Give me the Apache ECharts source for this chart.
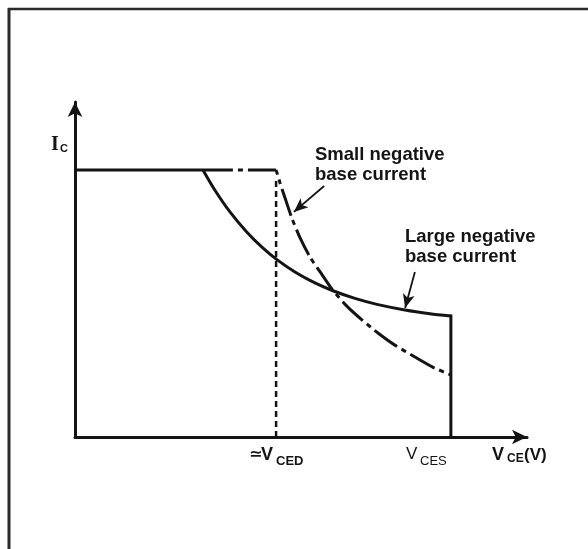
<!DOCTYPE html>
<html><head><meta charset="utf-8">
<script src="https://cdn.jsdelivr.net/npm/echarts@6.0.0/dist/echarts.min.js"></script>
<style>html,body{margin:0;padding:0;background:#fff}#c{width:588px;height:549px}</style>
</head><body><div id="c"></div>
<script>
// Axis extents (relative units)
const xAxisMax = 101.6;
const yAxisMax = 102.1;
// Common current limit (flat top)
const commonLimitX = [0, 35.5];
const commonLimitY = [81.4, 81.4];
// Large negative base current curve
const largeNegX = [28.76, 31.46, 34.83, 38.65, 42.02, 45.39, 49.44, 53.93, 57.98, 62.92, 67.87, 74.16, 79.78, 84.49];
const largeNegY = [81.40, 75.21, 68.60, 62.41, 57.87, 54.05, 50.30, 46.95, 44.57, 42.23, 40.43, 38.72, 37.59, 36.89];
// V_CES vertical limit
const vcesX = [84.49, 84.49];
const vcesY = [36.89, 0];
// Small negative base current curve (dash-dot)
const smallFlatX = [35.5, 45.2];
const smallFlatY = [81.4, 81.4];
const smallNegX = [45.2, 46.1, 47.2, 48.8, 50.6, 52.8, 55.1, 57.9, 61.1, 64.5, 68.1, 71.9, 76.4, 80.4, 84.49];
const smallNegY = [81.4, 77.4, 72.9, 66.5, 60.7, 54.9, 50.3, 44.8, 39.9, 35.7, 31.7, 28.0, 24.4, 21.3, 18.9];
// V_CED dotted marker
const vcedX = [45.2, 45.2];
const vcedY = [0, 78.5];
// Annotation arrows [from, to]
const smallArrow = [[56.0, 76.5], [49.2, 68.6]];
const largeArrow = [[76.4, 50.3], [74.2, 39.3]];

const INK = '#141414';
const zip = (xs, ys) => xs.map((x, i) => [x, ys[i]]);
const T = (x, y, text, font, extra) => Object.assign({
  type: 'text', x, y, silent: true,
  style: Object.assign({ text, font, fill: INK, align: 'left', textAlign: 'left',
    verticalAlign: 'middle', textVerticalAlign: 'middle' }, extra || {})
});

const chart = echarts.init(document.getElementById('c'), null, { renderer: 'canvas' });
const base = { type: 'line', showSymbol: false, symbol: 'none', silent: true, animation: false };
chart.setOption({
  animation: false,
  backgroundColor: '#ffffff',
  grid: { left: 75, top: 102, right: 61, bottom: 112, containLabel: false },
  xAxis: {
    type: 'value', min: 0, max: xAxisMax,
    axisLine: { show: true, onZero: true, symbol: ['none', 'arrow'], symbolSize: [11, 15],
      lineStyle: { color: INK, width: 3 } },
    axisTick: { show: false }, axisLabel: { show: false }, splitLine: { show: false }
  },
  yAxis: {
    type: 'value', min: 0, max: yAxisMax,
    axisLine: { show: true, onZero: true, symbol: ['none', 'arrow'], symbolSize: [11, 15],
      lineStyle: { color: INK, width: 3 } },
    axisTick: { show: false }, axisLabel: { show: false }, splitLine: { show: false }
  },
  series: [
    Object.assign({}, base, { name: 'limit', data: zip(commonLimitX, commonLimitY),
      lineStyle: { color: INK, width: 3, cap: 'butt' } }),
    Object.assign({}, base, { name: 'Large negative base current', data: zip(largeNegX, largeNegY), smooth: 0.25,
      lineStyle: { color: INK, width: 3, cap: 'butt' },
      markLine: {
        silent: true, animation: false, symbol: ['none', 'arrow'], symbolSize: [9, 14],
        label: { show: false },
        lineStyle: { color: INK, width: 1.8, type: 'solid' },
        data: [
          [{ coord: smallArrow[0] }, { coord: smallArrow[1] }],
          [{ coord: largeArrow[0] }, { coord: largeArrow[1] }]
        ]
      } }),
    Object.assign({}, base, { name: 'vces', data: zip(vcesX, vcesY),
      lineStyle: { color: INK, width: 3, cap: 'square', join: 'miter' } }),
    Object.assign({}, base, { name: 'smallFlat', data: zip(smallFlatX, smallFlatY),
      lineStyle: { color: INK, width: 3, type: [28, 5, 5, 5], dashOffset: 28, cap: 'butt' } }),
    Object.assign({}, base, { name: 'Small negative base current', data: zip(smallNegX, smallNegY), smooth: 0.2,
      lineStyle: { color: INK, width: 3, type: [28, 5, 5, 5], dashOffset: 23, cap: 'butt' } }),
    Object.assign({}, base, { name: 'VCED', data: zip(vcedX, vcedY),
      lineStyle: { color: INK, width: 2.5, type: [6, 4], cap: 'butt' } })
  ],
  graphic: [
    { type: 'line', silent: true, shape: { x1: 8, y1: 9, x2: 588, y2: 9 }, style: { stroke: '#2b2b2b', lineWidth: 2.5 } },
    { type: 'line', silent: true, shape: { x1: 9, y1: 8, x2: 9, y2: 549 }, style: { stroke: '#2b2b2b', lineWidth: 3 } },
    T(51, 145, 'I', 'bold 20px "Liberation Serif"'),
    T(60, 149, 'C', 'bold 11px "Liberation Sans"'),
    T(315, 165, 'Small negative\nbase current', 'bold 18.5px "Liberation Sans"', { lineHeight: 20 }),
    T(405, 247, 'Large negative\nbase current', 'bold 18.5px "Liberation Sans"', { lineHeight: 20 }),
    T(249, 455, '\u2243', 'bold 16px "DejaVu Sans"'),
    T(261, 455, 'V', 'bold 18px "Liberation Sans"'),
    T(276, 461, 'CED', 'bold 13px "Liberation Sans"'),
    T(406, 454, 'V', '17px "Liberation Sans"'),
    T(420, 461, 'CES', '13px "Liberation Sans"'),
    T(492, 455, 'V', 'bold 18px "Liberation Sans"'),
    T(507, 459, 'CE', 'bold 12px "Liberation Sans"'),
    T(524, 455, '(V)', 'bold 17px "Liberation Sans"')
  ]
});
</script></body></html>
